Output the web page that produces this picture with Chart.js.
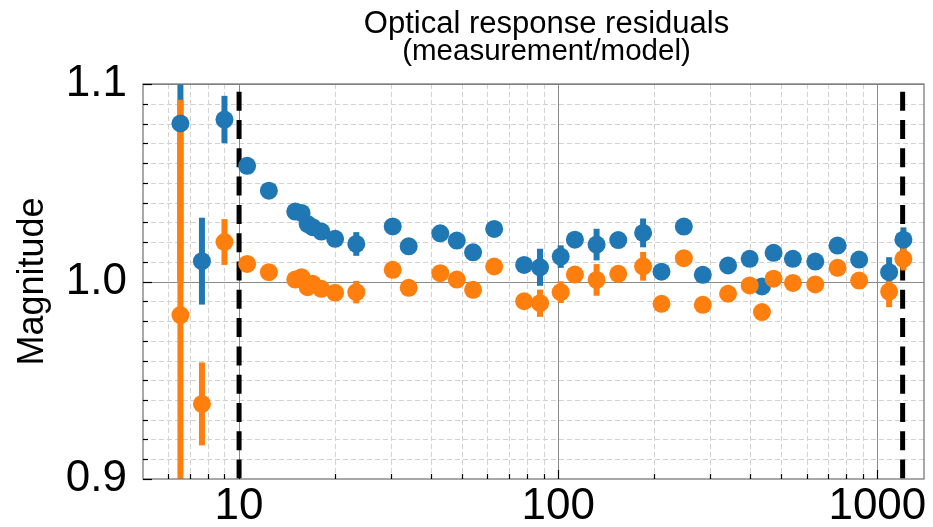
<!DOCTYPE html>
<html><head><meta charset="utf-8">
<script src="https://cdn.jsdelivr.net/npm/chart.js@4"></script>
<style>html,body{margin:0;padding:0;background:#fff}#wrap{width:933px;height:527px}</style>
</head><body><div id="wrap"><canvas id="c" width="933" height="527"></canvas></div>
<script>
const titleLines = ['Optical response residuals', '(measurement/model)'];
const yAxisTitle = 'Magnitude';
const xValues = [6.55, 7.65, 9.0, 10.6, 12.4, 15.0, 15.7, 16.4, 17.0, 18.1, 20.0, 23.3, 30.3, 34.0, 42.7, 48.1, 54.1, 63.0, 78.2, 87.7, 101.8, 112.8, 131.9, 154.2, 184.5, 210.7, 247.5, 283.8, 340.6, 398, 434.9, 473, 543.7, 639, 750.4, 877, 1088.6, 1206.7];
const blueValues = [1.080, 1.0103, 1.082, 1.0586, 1.046, 1.0354, 1.0347, 1.0291, 1.0275, 1.0253, 1.0216, 1.019, 1.0279, 1.0178, 1.0244, 1.0207, 1.0148, 1.0266, 1.0084, 1.0072, 1.0126, 1.0212, 1.0187, 1.021, 1.0246, 1.005, 1.0278, 1.0034, 1.0081, 1.0115, 0.9975, 1.0145, 1.0115, 1.0101, 1.0182, 1.0111, 1.0047, 1.0212];
const blueErrors = [0.08, 0.022, 0.012, 0.002, 0.002, 0.002, 0.002, 0.002, 0.002, 0.002, 0.002, 0.006, 0.002, 0.002, 0.002, 0.002, 0.002, 0.002, 0.002, 0.0094, 0.0057, 0.002, 0.008, 0.002, 0.0073, 0.003, 0.003, 0.002, 0.002, 0.002, 0.002, 0.002, 0.002, 0.002, 0.002, 0.002, 0.0076, 0.0062];
const orangeValues = [0.983, 0.938, 1.020, 1.0089, 1.0047, 1.001, 1.0022, 0.9971, 0.9988, 0.9963, 0.9943, 0.9946, 1.0059, 0.9968, 1.0042, 1.001, 0.9958, 1.0076, 0.990, 0.989, 0.9946, 1.0035, 1.0008, 1.0039, 1.0077, 0.9887, 1.0118, 0.9882, 0.9938, 0.998, 0.9845, 1.0014, 0.9993, 0.9985, 1.0069, 1.0005, 0.9949, 1.0115];
const orangeErrors = [0.109, 0.021, 0.0116, 0.002, 0.002, 0.002, 0.002, 0.002, 0.002, 0.002, 0.002, 0.0057, 0.002, 0.002, 0.002, 0.002, 0.002, 0.002, 0.002, 0.0069, 0.0055, 0.002, 0.008, 0.002, 0.0073, 0.0035, 0.002, 0.002, 0.002, 0.002, 0.002, 0.002, 0.002, 0.002, 0.002, 0.002, 0.0079, 0.0059];
const xTickValues = [6, 7, 8, 9, 10, 20, 30, 40, 50, 60, 70, 80, 90, 100, 200, 300, 400, 500, 600, 700, 800, 900, 1000];
const xMajorTicks = [10, 100, 1000];
const xTickLabels = ['10', '100', '1000'];
const yMajorTicks = [0.9, 1.0, 1.1];
const yTickLabels = ['0.9', '1.0', '1.1'];
const yMinorStep = 0.01;
const refLines = [10, 1200];

const BLUE = '#1f77b4', ORANGE = '#ff7f0e';
const FONT = '"Liberation Sans", Arial, Helvetica, sans-serif';

const yTickValues = [];
for (let v = yMajorTicks[0]; v <= yMajorTicks[yMajorTicks.length - 1] + 1e-9; v += yMinorStep) yTickValues.push(Math.round(v * 1000) / 1000);

const majorIndex = (list, v) => list.findIndex(m => Math.abs(m - v) < 1e-9);

const series = [
  {vals: blueValues, errs: blueErrors, color: BLUE},
  {vals: orangeValues, errs: orangeErrors, color: ORANGE}
];

const deco = {
  id: 'deco',
  beforeDatasetsDraw(chart) {
    const {ctx, chartArea: a, scales: {x, y}} = chart;
    ctx.save();
    ctx.beginPath(); ctx.rect(a.left, a.top, a.right - a.left, a.bottom - a.top); ctx.clip();
    ctx.lineWidth = 1; ctx.strokeStyle = '#d2d2d2'; ctx.setLineDash([5, 3]);
    x.ticks.forEach(t => {
      if (majorIndex(xMajorTicks, t.value) >= 0) return;
      const px = Math.round(x.getPixelForValue(t.value)) + 0.5;
      ctx.beginPath(); ctx.moveTo(px, a.top); ctx.lineTo(px, a.bottom); ctx.stroke();
    });
    y.ticks.forEach(t => {
      if (majorIndex(yMajorTicks, t.value) >= 0) return;
      const py = Math.round(y.getPixelForValue(t.value)) + 0.5;
      ctx.beginPath(); ctx.moveTo(a.left, py); ctx.lineTo(a.right, py); ctx.stroke();
    });
    ctx.setLineDash([]); ctx.strokeStyle = '#8a8a8a';
    xMajorTicks.forEach(v => {
      const px = Math.round(x.getPixelForValue(v)) + 0.5;
      ctx.beginPath(); ctx.moveTo(px, a.top); ctx.lineTo(px, a.bottom); ctx.stroke();
    });
    yMajorTicks.forEach(v => {
      const py = Math.round(y.getPixelForValue(v)) + 0.5;
      ctx.beginPath(); ctx.moveTo(a.left, py); ctx.lineTo(a.right, py); ctx.stroke();
    });
    ctx.strokeStyle = '#000'; ctx.lineWidth = 5; ctx.setLineDash([19, 9.3]); ctx.lineDashOffset = 20.6;
    refLines.forEach(v => {
      const px = x.getPixelForValue(v);
      ctx.beginPath(); ctx.moveTo(px, a.top); ctx.lineTo(px, a.bottom); ctx.stroke();
    });
    ctx.setLineDash([]); ctx.lineWidth = 6; ctx.lineCap = 'butt';
    series.forEach(s => {
      ctx.strokeStyle = s.color;
      xValues.forEach((xv, i) => {
        const px = x.getPixelForValue(xv);
        ctx.beginPath();
        ctx.moveTo(px, y.getPixelForValue(s.vals[i] - s.errs[i]));
        ctx.lineTo(px, y.getPixelForValue(s.vals[i] + s.errs[i]));
        ctx.stroke();
      });
    });
    ctx.restore();
  },
  afterDatasetsDraw(chart) {
    const {ctx, chartArea: a, scales: {x, y}} = chart;
    ctx.save();
    ctx.strokeStyle = '#7a7a7a'; ctx.lineWidth = 1.3;
    ctx.strokeRect(a.left, a.top, a.right - a.left, a.bottom - a.top);
    ctx.strokeStyle = '#000'; ctx.lineWidth = 1.2;
    y.ticks.forEach(t => {
      const len = majorIndex(yMajorTicks, t.value) >= 0 ? 9 : 5;
      const py = Math.round(y.getPixelForValue(t.value)) + 0.5;
      ctx.beginPath(); ctx.moveTo(a.left, py); ctx.lineTo(a.left + len, py); ctx.stroke();
    });
    x.ticks.forEach(t => {
      const len = majorIndex(xMajorTicks, t.value) >= 0 ? 9 : 5;
      const px = Math.round(x.getPixelForValue(t.value)) + 0.5;
      ctx.beginPath(); ctx.moveTo(px, a.bottom); ctx.lineTo(px, a.bottom - len); ctx.stroke();
    });
    ctx.restore();
  },
  afterDraw(chart) {
    const {ctx, chartArea: a} = chart;
    ctx.save();
    ctx.fillStyle = '#000'; ctx.textAlign = 'center'; ctx.textBaseline = 'alphabetic';
    const cx = (a.left + a.right) / 2 + 13;
    ctx.font = '31px ' + FONT;
    ctx.fillText(titleLines[0], cx, 33);
    ctx.font = '29.5px ' + FONT;
    ctx.fillText(titleLines[1], cx, 60);
    ctx.restore();
  }
};

new Chart(document.getElementById('c'), {
  type: 'scatter',
  data: {
    datasets: [
      {label: 'measurement/model A', data: xValues.map((xv, i) => ({x: xv, y: blueValues[i]})),
       backgroundColor: BLUE, borderWidth: 0, pointRadius: 9, pointHoverRadius: 9, order: 2},
      {label: 'measurement/model B', data: xValues.map((xv, i) => ({x: xv, y: orangeValues[i]})),
       backgroundColor: ORANGE, borderWidth: 0, pointRadius: 9, pointHoverRadius: 9, order: 1}
    ]
  },
  options: {
    responsive: false, animation: false, devicePixelRatio: 1,
    layout: {padding: {top: 84, right: 4, bottom: 0, left: 0}},
    plugins: {legend: {display: false}, tooltip: {enabled: false}, title: {display: false}},
    scales: {
      x: {
        type: 'logarithmic', min: 5, max: 1400,
        afterBuildTicks: s => { s.ticks = xTickValues.map(v => ({value: v})); },
        afterFit: s => { s.height = 48; },
        grid: {display: false, drawTicks: false},
        border: {display: false},
        ticks: {autoSkip: false, maxRotation: 0, minRotation: 0, padding: 1, color: '#000',
          font: {family: FONT, size: 44},
          callback: v => { const i = majorIndex(xMajorTicks, v); return i >= 0 ? xTickLabels[i] : ''; }}
      },
      y: {
        type: 'linear', min: 0.9, max: 1.1,
        afterBuildTicks: s => { s.ticks = yTickValues.map(v => ({value: v})); },
        afterFit: s => { s.width = 143; },
        grid: {display: false, drawTicks: false},
        border: {display: false},
        title: {display: true, text: yAxisTitle, color: '#000', font: {family: FONT, size: 36}, padding: {top: 11, bottom: 0}},
        ticks: {autoSkip: false, padding: 16, color: '#000', font: {family: FONT, size: 44},
          callback: v => { const i = majorIndex(yMajorTicks, v); return i >= 0 ? yTickLabels[i] : ''; }}
      }
    }
  },
  plugins: [deco]
});
</script>
</body></html>
